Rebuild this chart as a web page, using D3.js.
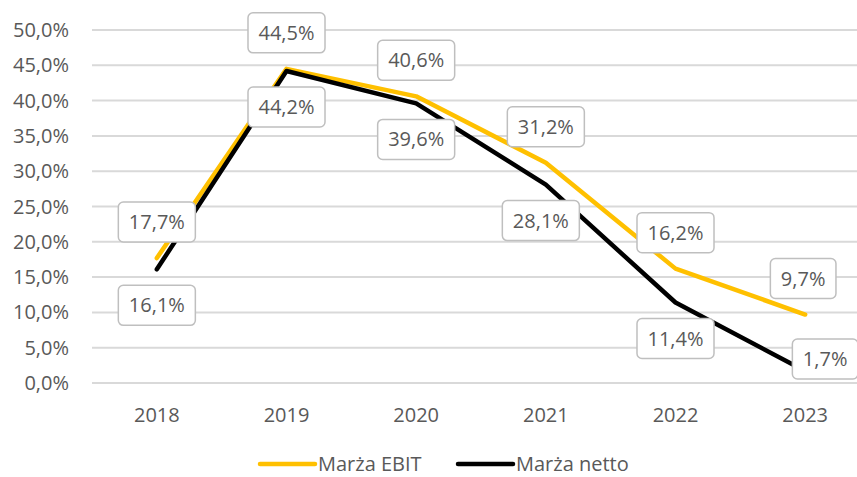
<!DOCTYPE html>
<head>
  <meta charset="utf-8">
  <script src="https://d3js.org/d3.v7.min.js"></script>
  <style>
    body { margin:0; background:white; }
    text { font-family: 'Open Sans', sans-serif; fill:#595959; }
  </style>
</head>
<body>
  <script>
  // chart data
  const years = ['2018', '2019', '2020', '2021', '2022', '2023'];
  const ebitMargin = [17.7, 44.5, 40.6, 31.2, 16.2, 9.7];
  const netMargin = [16.1, 44.2, 39.6, 28.1, 11.4, 1.7];
  const yTicks = [0, 5, 10, 15, 20, 25, 30, 35, 40, 45, 50];
  const seriesNames = ['Marża EBIT', 'Marża netto'];

  const width = 857, height = 477;
  const fontSize = '20px';
  const colors = ['#FFC000', '#000000'];

  const svg = d3.select('body').append('svg')
      .attr('width', width)
      .attr('height', height);

  const x = d3.scaleBand()
      .domain(years)
      .range([92, 870]);

  const y = d3.scaleLinear()
      .domain([0, 50])
      .range([383, 30]);

  const pct = d => d.toFixed(1).replace('.', ',') + '%';

  // gridlines
  svg.append('g')
    .selectAll('line')
    .data(yTicks)
    .enter()
    .append('line')
    .attr('x1', 92)
    .attr('x2', width)
    .attr('y1', d => y(d))
    .attr('y2', d => y(d))
    .style('stroke', '#D9D9D9')
    .style('stroke-width', '2px');

  // y axis labels
  svg.append('g')
    .selectAll('text')
    .data(yTicks)
    .enter()
    .append('text')
    .attr('x', 69)
    .attr('y', d => y(d))
    .attr('dy', '0.35em')
    .attr('text-anchor', 'end')
    .style('font-size', fontSize)
    .text(d => pct(d));

  // x axis labels
  svg.append('g')
    .selectAll('text')
    .data(years)
    .enter()
    .append('text')
    .attr('x', d => x(d) + x.bandwidth() / 2)
    .attr('y', 415)
    .attr('dy', '0.35em')
    .attr('text-anchor', 'middle')
    .style('font-size', fontSize)
    .text(d => d);

  const line = d3.line()
      .x((d, i) => x(years[i]) + x.bandwidth() / 2)
      .y(d => y(d));

  [ebitMargin, netMargin].forEach((vals, k) => {
    svg.append('path')
      .datum(vals)
      .attr('d', line)
      .style('fill', 'none')
      .style('stroke', colors[k])
      .style('stroke-width', '4.5px')
      .style('stroke-linejoin', 'round')
      .style('stroke-linecap', 'round');
  });

  // data labels: EBIT above, netto below; a few nudged like the excel layout
  const nudges = { 'n3': [-5, 0], 'e5': [-2, 0], 'n5': [20, -48] };

  const labelData = [];
  ebitMargin.forEach((v, i) => labelData.push({ v, i, dy: -36, key: 'e' + i }));
  netMargin.forEach((v, i) => labelData.push({ v, i, dy: 36, key: 'n' + i }));

  const labels = svg.append('g')
    .selectAll('g')
    .data(labelData)
    .enter()
    .append('g')
    .attr('transform', d => {
      const n = nudges[d.key] || [0, 0];
      const cx = x(years[d.i]) + x.bandwidth() / 2 + n[0];
      const cy = y(d.v) + d.dy + n[1];
      return `translate(${cx}, ${cy})`;
    });

  labels.append('rect');
  labels.append('text')
    .attr('text-anchor', 'middle')
    .attr('dy', '0.35em')
    .style('font-size', fontSize)
    .text(d => pct(d.v));

  labels.each(function() {
    const g = d3.select(this);
    const w = g.select('text').node().getComputedTextLength() + 21;
    g.select('rect')
      .attr('x', -w / 2)
      .attr('y', -20)
      .attr('width', w)
      .attr('height', 40)
      .attr('rx', 5)
      .style('fill', 'white')
      .style('stroke', '#BFBFBF')
      .style('stroke-width', '1.5px');
  });

  // legend
  const legendItems = [
    { name: seriesNames[0], color: colors[0], x: 260 },
    { name: seriesNames[1], color: colors[1], x: 458 }
  ];
  const legend = svg.append('g')
    .selectAll('g')
    .data(legendItems)
    .enter()
    .append('g')
    .attr('transform', d => `translate(${d.x}, 464)`);

  legend.append('line')
    .attr('x1', 0)
    .attr('x2', 55)
    .style('stroke', d => d.color)
    .style('stroke-width', '4.5px')
    .style('stroke-linecap', 'round');

  legend.append('text')
    .attr('x', 58)
    .attr('dy', '0.35em')
    .style('font-size', fontSize)
    .text(d => d.name);
  </script>
</body>
